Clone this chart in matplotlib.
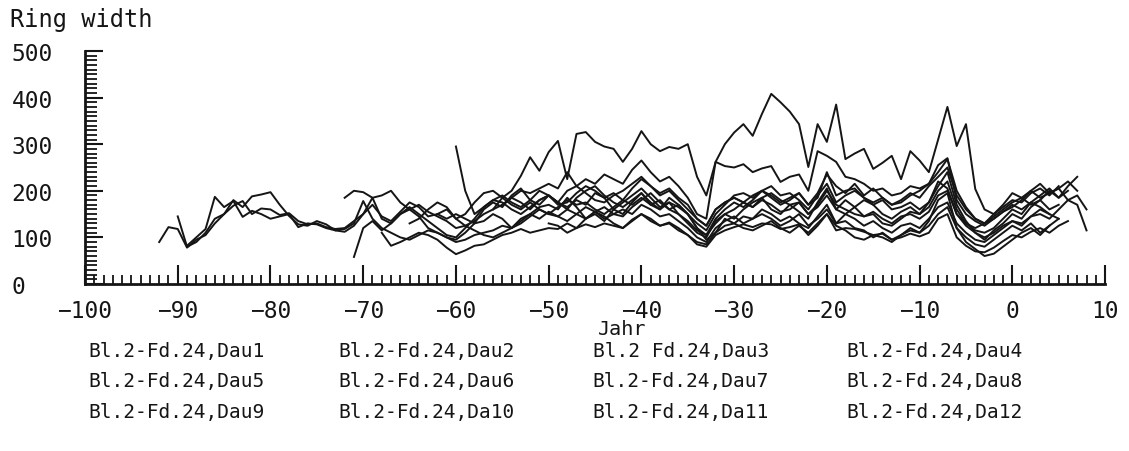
import matplotlib
matplotlib.use("Agg")
import matplotlib.pyplot as plt
from matplotlib.ticker import MultipleLocator

plt.rcParams["font.family"] = "DejaVu Sans Mono"

# ring widths per year, each series starts at its own year (rows of 10 years)
names = ["Bl.2-Fd.24,Dau1", "Bl.2-Fd.24,Dau2", "Bl.2 Fd.24,Dau3", "Bl.2-Fd.24,Dau4",
         "Bl.2-Fd.24,Dau5", "Bl.2-Fd.24,Dau6", "Bl.2-Fd.24,Dau7", "Bl.2-Fd.24,Dau8",
         "Bl.2-Fd.24,Dau9", "Bl.2-Fd.24,Da10", "Bl.2-Fd.24,Da11", "Bl.2-Fd.24,Da12"]
starts = [-92, -90, -89, -71, -72, -56, -60, -68, -65, -55, -50, -62]

dau1 = [90, 122, 118, 78, 95, 105, 130, 150, 168, 178,
        150, 162, 160, 148, 152, 135, 128, 130, 122, 118,
        120, 135, 150, 185, 140, 130, 150, 160, 145, 120,
        110, 100, 95, 110, 130, 160, 175, 165, 190, 205,
        180, 170, 190, 175, 165, 180, 170, 195, 185, 160,
        150, 175, 195, 170, 180, 160, 170, 150, 120, 105,
        130, 150, 140, 160, 175, 185, 160, 150, 170, 155,
        140, 175, 205, 160, 180, 165, 145, 150, 130, 125,
        140, 155, 150, 175, 210, 240, 170, 135, 110, 95,
        115, 130, 150, 140, 165, 180, 160, 170]
dau2 = [145, 80, 90, 110, 140, 150, 180, 165, 188, 192,
        197, 170, 146, 128, 125, 135, 128, 115, 112, 125,
        150, 170, 145, 135, 155, 175, 165, 145, 150, 140,
        150, 140, 130, 135, 150, 140, 120, 135, 150, 165,
        170, 160, 185, 165, 140, 150, 135, 160, 175, 190,
        205, 185, 165, 175, 150, 130, 110, 100, 135, 150,
        160, 175, 165, 185, 195, 180, 170, 175, 150, 165,
        190, 160, 150, 165, 180, 170, 150, 140, 155, 165,
        150, 165, 200, 220, 160, 130, 115, 110, 120, 140,
        160, 150, 175, 190, 205, 185, 200]
dau3 = [82, 100, 118, 187, 165, 178, 144, 157, 150, 140,
        145, 150, 122, 130, 128, 120, 115, 118, 130, 178,
        140, 120, 110, 100, 95, 105, 115, 110, 100, 90,
        95, 105, 110, 115, 125, 120, 130, 145, 160, 150,
        165, 180, 170, 175, 160, 150, 165, 180, 170, 185,
        170, 160, 175, 165, 150, 120, 95, 110, 140, 130,
        145, 140, 160, 150, 135, 145, 130, 120, 145, 170,
        130, 135, 120, 115, 100, 110, 95, 105, 120, 110,
        135, 180, 195, 120, 90, 75, 60, 65, 80, 95,
        110, 120, 105, 125]
dau4 = [58, 120, 135, 115, 130, 150, 165, 150, 135, 120,
        105, 100, 120, 140, 165, 180, 190, 175, 165, 180,
        200, 190, 175, 160, 185, 200, 210, 190, 175, 165,
        180, 195, 175, 160, 185, 170, 150, 130, 115, 150,
        170, 190, 195, 185, 200, 210, 190, 195, 180, 160,
        190, 215, 175, 190, 200, 185, 170, 180, 160, 165,
        175, 160, 175, 220, 205, 150, 130, 120, 130, 145,
        160, 175, 185, 170, 180, 200, 185, 210, 230]
dau5 = [185, 200, 197, 185, 190, 200, 175, 160, 170, 155,
        145, 135, 120, 125, 115, 105, 100, 110, 120, 140,
        150, 140, 155, 145, 135, 150, 165, 155, 140, 150,
        160, 150, 170, 160, 145, 150, 135, 120, 100, 90,
        120, 135, 145, 130, 140, 150, 140, 125, 135, 150,
        125, 140, 160, 130, 150, 140, 125, 135, 120, 110,
        125, 130, 120, 140, 165, 175, 130, 110, 95, 90,
        105, 120, 135, 125, 145, 160, 150, 140]
dau6 = [160, 185, 200, 232, 272, 243, 283, 307, 225, 322,
        326, 305, 295, 290, 262, 290, 328, 300, 285, 294,
        290, 300, 230, 190, 262, 300, 325, 343, 318, 365,
        408, 390, 370, 343, 251, 343, 305, 385, 268, 280,
        290, 247, 260, 275, 225, 285, 265, 240, 310, 380,
        296, 343, 204, 160, 150, 165, 180, 175, 195, 205, 190, 210]
dau7 = [295, 200, 150, 165, 180, 175, 160, 150, 165, 180,
        190, 175, 200, 210, 195, 180, 175, 190, 200, 215,
        230, 210, 195, 205, 185, 170, 140, 125, 160, 175,
        185, 175, 165, 180, 170, 155, 160, 175, 150, 170,
        200, 170, 160, 150, 145, 155, 140, 130, 145, 150,
        140, 155, 190, 200, 150, 125, 110, 100, 110, 125,
        135, 130, 145, 150, 140, 160, 180, 170, 115]
dau8 = [110, 82, 90, 100, 110, 105, 95, 78, 64, 72,
        82, 85, 95, 105, 110, 118, 110, 115, 120, 118,
        130, 120, 128, 122, 130, 125, 120, 138, 150, 135,
        125, 132, 120, 105, 85, 80, 105, 115, 122, 128,
        122, 130, 128, 118, 122, 128, 105, 125, 150, 115,
        120, 118, 112, 105, 108, 95, 100, 108, 102, 110,
        140, 150, 100, 82, 70, 68, 78, 92, 105, 100,
        112, 120, 110, 125, 135]
dau9 = [130, 140, 160, 175, 165, 140, 150, 175, 195, 200,
        185, 170, 160, 175, 160, 150, 145, 160, 150, 140,
        155, 165, 150, 145, 165, 180, 195, 175, 160, 150,
        135, 115, 105, 140, 160, 175, 165, 180, 200, 190,
        175, 185, 195, 170, 185, 240, 190, 200, 205, 185,
        175, 185, 170, 175, 190, 200, 215, 255, 270, 180,
        150, 135, 125, 140, 155, 170, 160, 175, 165, 150]
da10 = [170, 185, 200, 195, 205, 215, 205, 240, 210, 225,
        215, 235, 225, 215, 245, 265, 240, 220, 230, 210,
        185, 150, 140, 262, 253, 250, 257, 240, 248, 253,
        219, 230, 235, 200, 285, 275, 262, 230, 225, 215,
        200, 205, 190, 195, 210, 205, 215, 240, 268, 200,
        165, 140, 130, 150, 170, 195, 185, 200, 215, 195, 205, 220, 200]
da11 = [130, 125, 110, 120, 140, 155, 145, 130, 120, 135,
        150, 140, 125, 130, 115, 105, 90, 85, 110, 125,
        130, 120, 115, 125, 135, 120, 110, 125, 110, 130,
        150, 125, 115, 100, 95, 105, 100, 90, 105, 115,
        110, 125, 150, 165, 120, 100, 85, 80, 95, 110,
        125, 115, 130, 110, 125, 140]
da12 = [150, 160, 140, 125, 135, 150, 160, 170, 185, 175,
        160, 180, 190, 170, 175, 195, 210, 200, 185, 195,
        180, 205, 225, 210, 190, 200, 180, 160, 140, 125,
        160, 175, 185, 175, 190, 200, 185, 170, 180, 195,
        170, 195, 235, 210, 195, 215, 190, 205, 185, 170,
        180, 195, 185, 210, 230, 250, 190, 160, 140, 130,
        140, 155, 165, 180, 200, 185, 195, 205, 180, 190, 160]

series = [dau1, dau2, dau3, dau4, dau5, dau6, dau7, dau8, dau9, da10, da11, da12]

fig = plt.figure(figsize=(11.29, 4.52), dpi=100)
ax = fig.add_axes([0.0753, 0.3695, 0.9035, 0.5155])

for name, start, vals in zip(names, starts, series):
    years = list(range(start, start + len(vals)))
    ax.plot(years, vals, color="#151515", lw=1.4, label=name)

ax.set_xlim(-100, 10)
ax.set_ylim(0, 500)
for s in ["top", "right"]:
    ax.spines[s].set_visible(False)
for s in ["left", "bottom"]:
    ax.spines[s].set_linewidth(2)
    ax.spines[s].set_color("#151515")

ax.xaxis.set_major_locator(MultipleLocator(10))
ax.xaxis.set_minor_locator(MultipleLocator(1))
ax.yaxis.set_major_locator(MultipleLocator(100))
ax.yaxis.set_minor_locator(MultipleLocator(10))
ax.tick_params(axis="x", which="major", direction="in", length=14, width=1.5,
               labelsize=16.5, pad=11, colors="#151515")
ax.tick_params(axis="x", which="minor", direction="in", length=6.5, width=1.3,
               colors="#151515")
ax.tick_params(axis="y", which="major", direction="in", length=13, width=1.5,
               labelsize=16.5, pad=53, colors="#151515")
ax.tick_params(axis="y", which="minor", direction="in", length=8.5, width=1.3,
               colors="#151515")
for t in ax.get_yticklabels():
    t.set_horizontalalignment("left")

fig.text(0.009, 0.955, "Ring width", fontsize=17, va="center", color="#151515")
fig.text(0.530, 0.27, "Jahr", fontsize=14.5, va="center", color="#151515")

col_x = [0.078, 0.300, 0.525, 0.750]
row_y = [0.222, 0.155, 0.087]
for i, name in enumerate(names):
    fig.text(col_x[i % 4], row_y[i // 4], name, fontsize=14, va="center",
             color="#151515")

fig.savefig("out.png", dpi=100)
